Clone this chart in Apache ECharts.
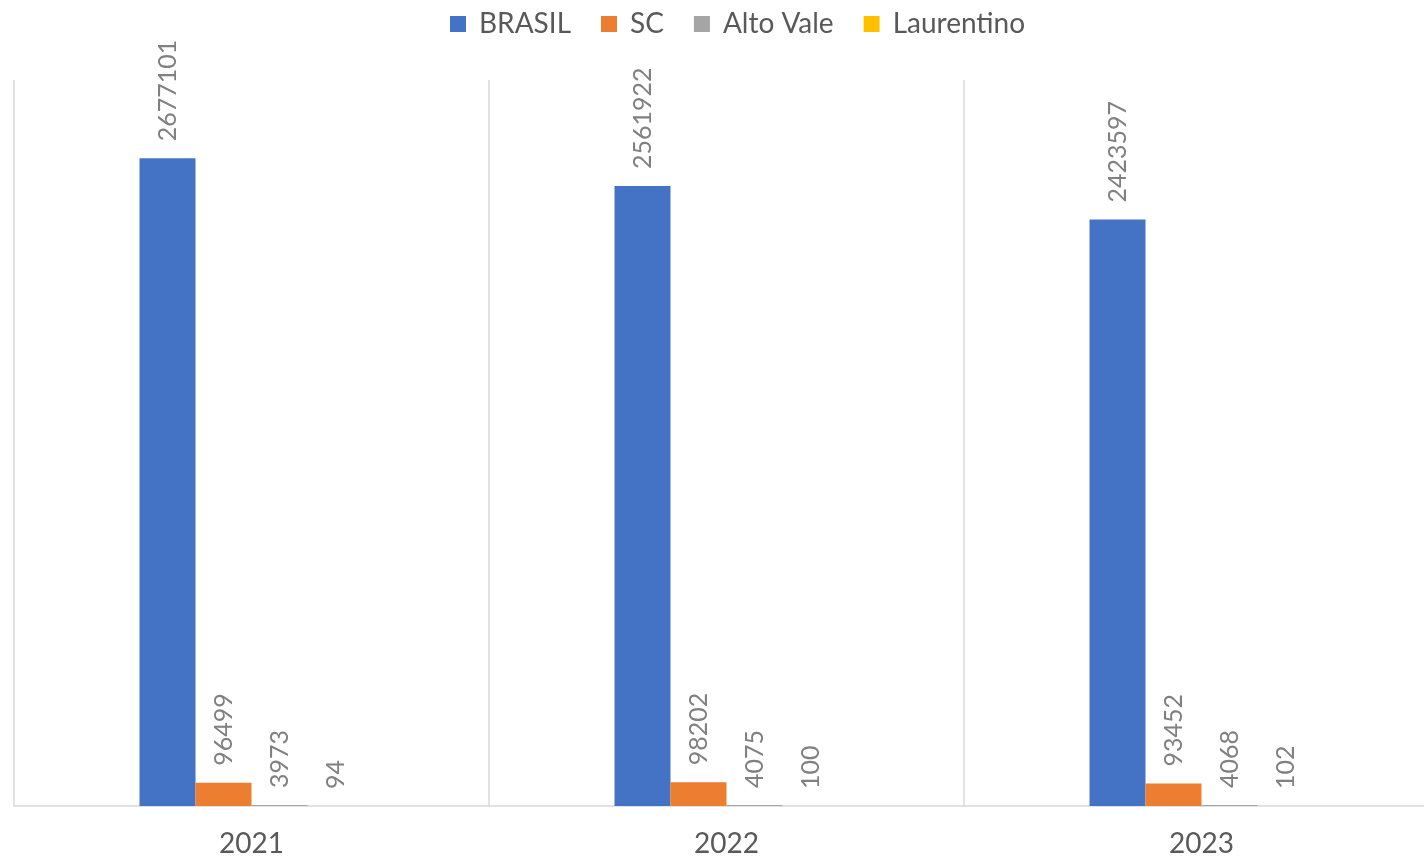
<!DOCTYPE html>
<html>
<head>
<meta charset="utf-8">
<script src="https://cdn.jsdelivr.net/npm/echarts@6/dist/echarts.min.js"></script>
<style>
  html, body { margin: 0; padding: 0; background: #fff; }
  #chart { width: 1424px; height: 857px; }
</style>
</head>
<body>
<div id="chart"></div>
<script>
// anos e valores por região
var anos = ['2021', '2022', '2023'];
var brasil = [2677101, 2561922, 2423597];
var sc = [96499, 98202, 93452];
var altoVale = [3973, 4075, 4068];
var laurentino = [94, 100, 102];

var cores = ['#4472C4', '#ED7D31', '#A5A5A5', '#FFC000'];
var fonte = 'Lato, "Open Sans", sans-serif';

function serie(nome, dados) {
  return {
    name: nome,
    type: 'bar',
    data: dados,
    barWidth: 56,
    barGap: 0,
    label: {
      show: true,
      position: 'top',
      distance: 17,
      rotate: 90,
      align: 'left',
      verticalAlign: 'middle',
      color: '#808080',
      fontFamily: fonte,
      fontSize: 25
    }
  };
}

var myChart = echarts.init(document.getElementById('chart'));
myChart.setOption({
  color: cores,
  animation: false,
  legend: {
    top: 5,
    left: 445,
    itemWidth: 16,
    itemHeight: 16,
    itemGap: 30,
    icon: 'rect',
    textStyle: { color: '#595959', fontFamily: fonte, fontSize: 28, padding: [0, 0, 0, 8] }
  },
  grid: { left: 14, top: 80, width: 1425, bottom: 51, outerBoundsMode: 'none', containLabel: false },
  xAxis: {
    type: 'category',
    data: anos,
    axisLine: { lineStyle: { color: '#d9d9d9', width: 1.5 } },
    axisTick: { show: false },
    splitLine: { show: true, lineStyle: { color: '#d9d9d9', width: 1.5 } },
    axisLabel: { color: '#595959', fontFamily: fonte, fontSize: 28, margin: 24 }
  },
  yAxis: {
    type: 'value',
    min: 0,
    max: 3000000,
    show: false,
    splitLine: { show: false }
  },
  series: [
    serie('BRASIL', brasil),
    serie('SC', sc),
    serie('Alto Vale', altoVale),
    serie('Laurentino', laurentino)
  ]
});
</script>
</body>
</html>
